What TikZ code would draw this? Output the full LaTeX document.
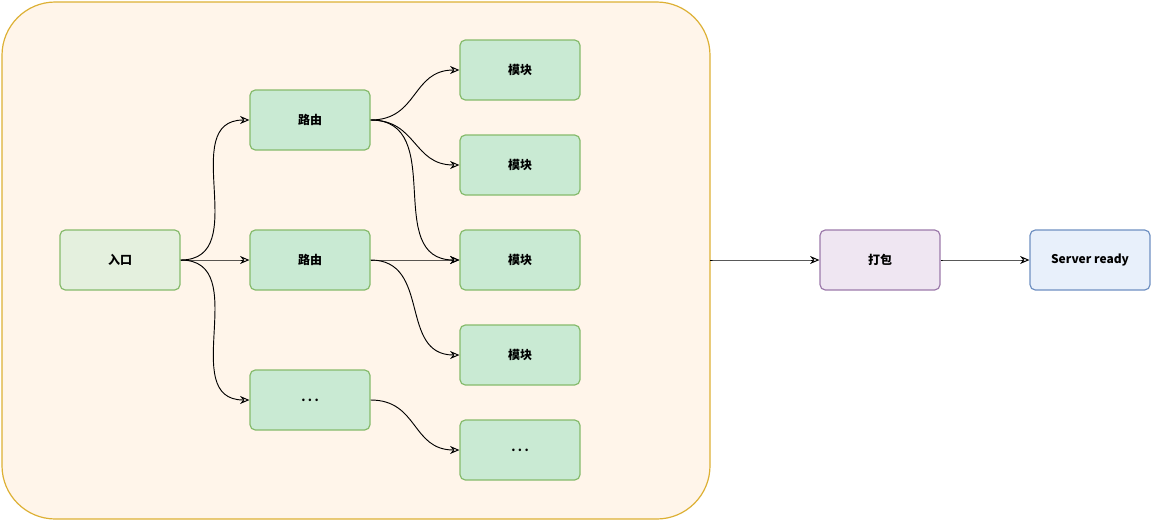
\documentclass[tikz,border=0pt]{standalone}
\usepackage{fontspec}
\setmainfont{Noto Sans CJK SC}
\usetikzlibrary{arrows.meta}
\definecolor{ofill}{HTML}{FFF5EA}
\definecolor{oline}{HTML}{DDB034}
\definecolor{gfill}{HTML}{C9EAD3}
\definecolor{gpale}{HTML}{E4F0DE}
\definecolor{gline}{HTML}{86BB6C}
\definecolor{pfill}{HTML}{EFE6F2}
\definecolor{pline}{HTML}{9C7AAB}
\definecolor{bfill}{HTML}{E8F0FB}
\definecolor{bline}{HTML}{6F90C2}
\newcommand{\gap}{.\hspace{1.8pt}.\hspace{1.8pt}.}
\begin{document}
\begin{tikzpicture}[x=0.75pt,y=-0.75pt,
  box/.style={draw=gline, fill=gfill, rounded corners=4pt, line width=0.9pt,
    minimum width=90pt, minimum height=45pt, font=\fontsize{9}{11}\selectfont\bfseries},
  link/.style={-{Stealth[open,length=7pt,width=6pt]}, line width=0.7pt, out=0, in=180, looseness=1.2}]
\useasboundingbox (0,0) rectangle (1151,521);
\draw [rounded corners=40pt, draw=oline, fill=ofill, line width=0.9pt] (2,2) rectangle (710,519);
\coordinate (out) at (710,260);
\node [box, fill=gpale] (entry) at (120,260) {入口};
\node [box] (route1) at (310,120) {路由};
\node [box] (route2) at (310,260) {路由};
\node [box] (route3) at (310,400) {\gap};
\node [box] (mod1) at (520,70) {模块};
\node [box] (mod2) at (520,165) {模块};
\node [box] (mod3) at (520,260) {模块};
\node [box] (mod4) at (520,355) {模块};
\node [box] (mod5) at (520,450) {\gap};
\node [box, draw=pline, fill=pfill] (pack) at (880,260) {打包};
\node [box, draw=bline, fill=bfill] (ready) at (1090,260) {Server ready};
\draw [link] (entry.east) to (route1.west);
\draw [link] (entry.east) to (route2.west);
\draw [link] (entry.east) to (route3.west);
\draw [link] (route1.east) to (mod1.west);
\draw [link] (route1.east) to (mod2.west);
\draw [link] (route1.east) to (mod3.west);
\draw [link] (route2.east) to (mod3.west);
\draw [link] (route2.east) to (mod4.west);
\draw [link] (route3.east) to (mod5.west);
\draw [link] (out) to (pack.west);
\draw [link] (pack.east) to (ready.west);
\end{tikzpicture}
\end{document}
